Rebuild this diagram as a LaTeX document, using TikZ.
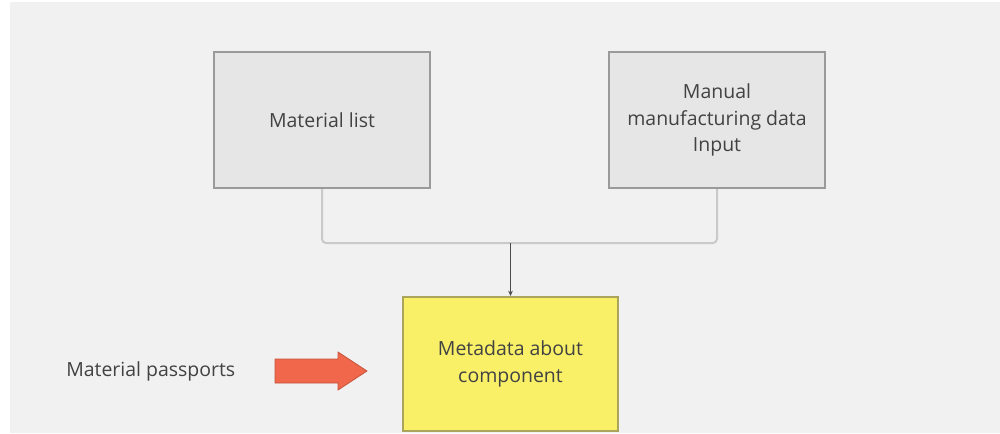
\documentclass[tikz,border=0pt]{standalone}
\usepackage{fontspec}
\setmainfont{Open Sans}
\usetikzlibrary{arrows.meta}
\definecolor{bg}{HTML}{F1F1F1}
\definecolor{boxfill}{HTML}{E6E6E6}
\definecolor{boxline}{HTML}{9A9A9A}
\definecolor{yfill}{HTML}{F9F068}
\definecolor{yline}{HTML}{ABA55C}
\definecolor{afill}{HTML}{F0674B}
\definecolor{aline}{HTML}{C4553C}
\definecolor{feed}{HTML}{C9C9C9}
\definecolor{txt}{HTML}{424242}
\tikzset{
  txtfont/.style={font=\fontsize{14.6}{20}\selectfont, text=txt},
  graybox/.style={draw=boxline, line width=1.5pt, fill=boxfill, minimum width=162pt, minimum height=102pt, align=center, inner sep=0pt, txtfont},
  yellowbox/.style={draw=yline, line width=1.5pt, fill=yfill, minimum width=161pt, minimum height=100.5pt, align=center, inner sep=0pt, txtfont},
  feedline/.style={draw=feed, line width=1.5pt, rounded corners=3pt},
  mainlink/.style={draw=black!70, line width=0.8pt, -{Stealth[length=4pt,width=3.5pt]}},
  bigarrow/.style={draw=aline, line width=0.6pt, fill=afill}
}
\begin{document}
\begin{tikzpicture}[x=0.75pt,y=-0.75pt]
\useasboundingbox (0,0) rectangle (1000,433);
\fill[bg] (10,2) rectangle (1000,433);
\node[graybox] (ml) at (322,120) {Material list};
\node[graybox] (man) at (717,120) {Manual\\manufacturing data\\Input};
\node[yellowbox] (meta) at (510.5,364) {Metadata about\\component};
\coordinate (j) at (meta.north |- 0,243);
\draw[feedline] (ml.south) |- (j) -| (man.south);
\draw[mainlink] (j) -- (meta.north);
\node[txtfont, anchor=west, inner sep=0pt] (mp) at (66,371) {Material passports};
\draw[bigarrow] (275,359) -- (338,359) -- (338,352) -- (367,371) -- (338,390) -- (338,383) -- (275,383) -- cycle;
\end{tikzpicture}
\end{document}
